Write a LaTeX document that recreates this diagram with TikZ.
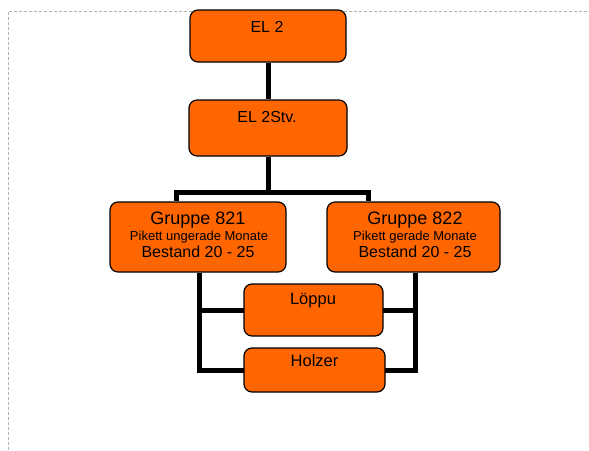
\documentclass[tikz,border=0pt]{standalone}
\usepackage{fontspec}
\setmainfont{Liberation Sans}
\usetikzlibrary{backgrounds}
\definecolor{boxorange}{HTML}{FF6600}
\begin{document}
\begin{tikzpicture}[x=1pt,y=-1pt,
  box/.style={draw=black,line width=1.2pt,fill=boxorange,rounded corners=8pt,inner sep=0pt},
  conn/.style={draw=black,line width=5pt},
  frame/.style={draw=gray!60,line width=0.6pt,dash pattern=on 3pt off 2pt},
  lbl/.style={anchor=base,inner sep=0pt,text=black}]
\useasboundingbox (0,0) rectangle (589,450);
% boxes
\node[box,minimum width=156,minimum height=52] (el2) at (268,36) {};
\node[box,minimum width=158,minimum height=56] (stv) at (268,128) {};
\node[box,minimum width=176,minimum height=70] (g1) at (198,237) {};
\node[box,minimum width=173,minimum height=70] (g2) at (413.5,237) {};
\node[box,minimum width=139,minimum height=52] (lp) at (313.5,310) {};
\node[box,minimum width=141,minimum height=44] (hz) at (314.5,370) {};
% junction coordinates
\coordinate (j1) at (268,192);
\coordinate (jl) at (176,192);
\coordinate (jr) at (368,192);
\coordinate (b1) at (199,310);
\coordinate (b2) at (415,310);
\coordinate (b3) at (199,370);
\coordinate (b4) at (415,370);
\coordinate (fA) at (8,450);
\coordinate (fB) at (8,11);
\coordinate (fC) at (589,11);
\begin{scope}[on background layer]
  \draw[frame] (fA) -- (fB) -- (fC);
  \draw[conn] (el2.south) -- (stv.north);
  \draw[conn] (stv.south) -- (j1);
  \draw[conn,line cap=rect] (jl) -- (jr);
  \draw[conn] (jl) -- (jl |- g1.north);
  \draw[conn] (jr) -- (jr |- g2.north);
  \draw[conn] (b1 |- g1.south) -- (b3) -- (b4) -- (b2 |- g2.south);
  \draw[conn] (b1) -- (b2);
\end{scope}
% texts
\node[lbl,font=\fontsize{16}{19}\selectfont] (t1) at (267,32) {EL 2};
\node[lbl,font=\fontsize{16}{19}\selectfont] (t2) at (267,122) {EL 2Stv.};
\node[lbl,font=\fontsize{18}{21}\selectfont] (g1a) at (198,224) {Gruppe 821};
\node[lbl,font=\fontsize{13}{15}\selectfont] (g1b) at (199,240) {Pikett ungerade Monate};
\node[lbl,font=\fontsize{16}{19}\selectfont] (g1c) at (198,257.5) {Bestand 20 - 25};
\node[lbl,font=\fontsize{18}{21}\selectfont] (g2a) at (415,224) {Gruppe 822};
\node[lbl,font=\fontsize{13}{15}\selectfont] (g2b) at (415,240) {Pikett gerade Monate};
\node[lbl,font=\fontsize{16}{19}\selectfont] (g2c) at (415,257.5) {Bestand 20 - 25};
\node[lbl,font=\fontsize{16.5}{19}\selectfont] (t3) at (313,304) {Löppu};
\node[lbl,font=\fontsize{16.5}{19}\selectfont] (t4) at (314.5,366.5) {Holzer};
\end{tikzpicture}
\end{document}
